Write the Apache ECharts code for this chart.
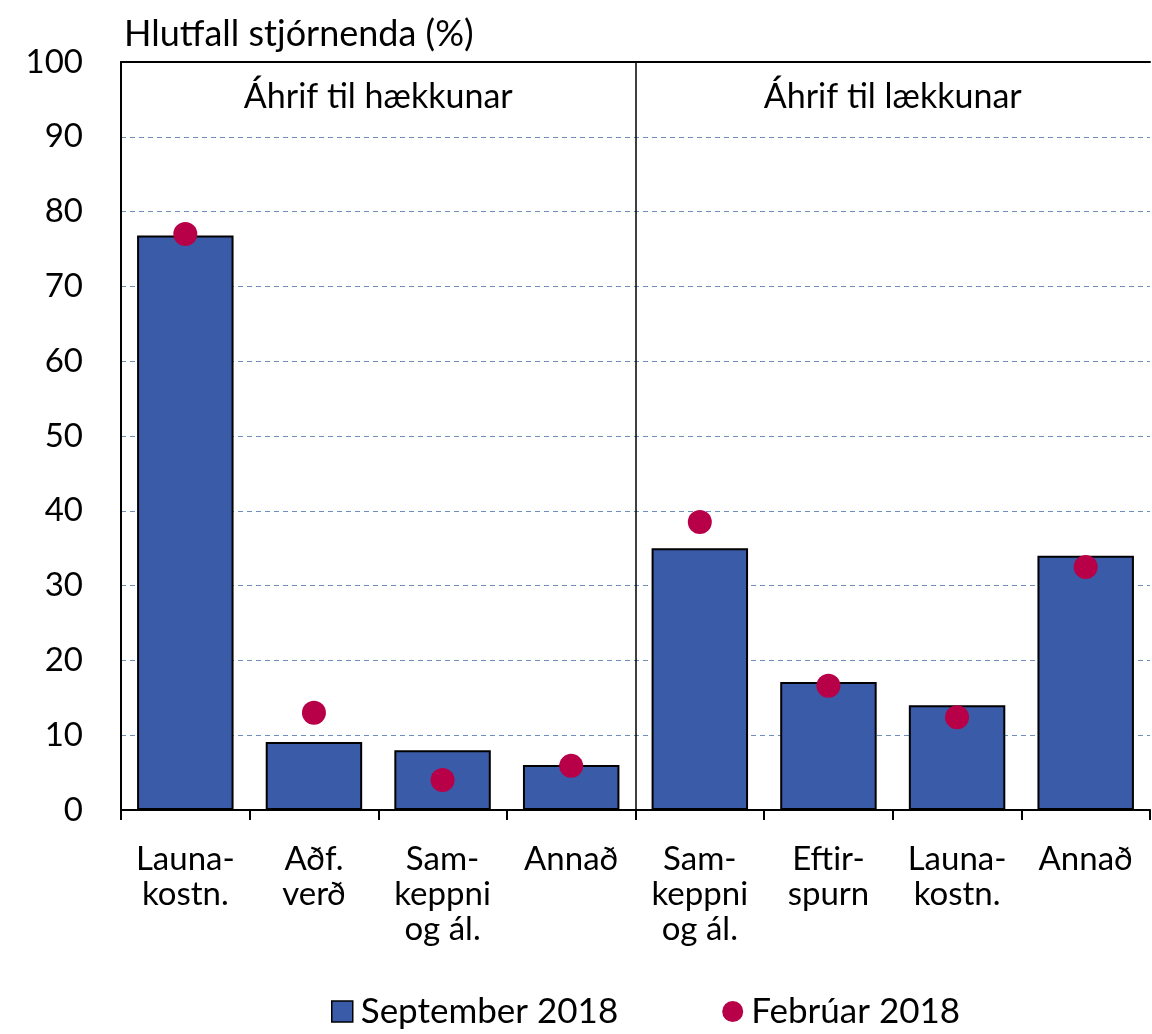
<!DOCTYPE html>
<html>
<head>
<meta charset="utf-8">
<script src="https://cdn.jsdelivr.net/npm/echarts@6/dist/echarts.min.js"></script>
<style>
  html, body { margin: 0; padding: 0; background: #fff; }
  #chart { width: 1152px; height: 1034px; }
</style>
</head>
<body>
<div id="chart"></div>
<script>
// flokkar (x-ás)
var categories = ['Launa-\nkostn.', 'Aðf.\nverð', 'Sam-\nkeppni\nog ál.', 'Annað',
  'Sam-\nkeppni\nog ál.', 'Eftir-\nspurn', 'Launa-\nkostn.', 'Annað']
var groups = ['Áhrif til hækkunar', 'Áhrif til lækkunar']
var sept2018 = [76.8, 9.1, 8.0, 6.0, 35.0, 17.1, 14.0, 34.0] // súlur
var feb2018 = [77.0, 13.0, 4.0, 5.9, 38.5, 16.6, 12.4, 32.5] // punktar
var yTicks = { min: 0, max: 100, interval: 10 }

var font = 'Lato, "Open Sans", sans-serif'
var chart = echarts.init(document.getElementById('chart'))
var option = {
  animation: false,
  textStyle: { fontFamily: font, color: '#000' },
  grid: { left: 121, right: 2, top: 62, bottom: 224 },
  legend: {
    left: 326,
    bottom: 0,
    itemGap: 104,
    itemWidth: 21,
    itemHeight: 21,
    textStyle: { fontSize: 35, color: '#000', fontFamily: font, padding: [0, 0, 0, 3] },
    data: [
      { name: 'September 2018', icon: 'rect', itemStyle: { borderColor: '#000', borderWidth: 1.5 } },
      { name: 'Febrúar 2018', icon: 'circle' }
    ]
  },
  xAxis: [
    {
      type: 'category',
      data: categories,
      position: 'bottom',
      axisLine: { lineStyle: { color: '#000', width: 2 } },
      axisTick: { show: true, length: 10, lineStyle: { color: '#000', width: 2 } },
      axisLabel: { interval: 0, fontSize: 33, lineHeight: 35, color: '#000', margin: 32, fontFamily: font },
      splitLine: { show: false }
    },
    {
      type: 'category',
      data: groups,
      position: 'top',
      axisLine: { show: true, lineStyle: { color: '#000', width: 2 } },
      axisTick: { show: false },
      axisLabel: { inside: true, fontSize: 34, color: '#000', margin: 18, verticalAlign: 'top', fontFamily: font },
      splitLine: { show: true, showMinLine: false, showMaxLine: false, lineStyle: { color: '#000', width: 1.5 } }
    }
  ],
  yAxis: {
    type: 'value',
    min: yTicks.min,
    max: yTicks.max,
    interval: yTicks.interval,
    name: 'Hlutfall stjórnenda (%)',
    nameLocation: 'end',
    nameGap: 10,
    nameTextStyle: { fontSize: 36, color: '#000', align: 'left', padding: [0, 0, 0, 3], fontFamily: font },
    axisLine: { show: true, lineStyle: { color: '#000', width: 2 } },
    axisTick: { show: false },
    axisLabel: { fontSize: 33, color: '#000', margin: 38, fontFamily: font },
    splitLine: { show: true, showMinLine: false, showMaxLine: false, lineStyle: { color: '#6F8DBA', type: [5, 4], width: 1 } }
  },
  series: [
    {
      name: 'September 2018',
      type: 'bar',
      data: sept2018,
      barCategoryGap: '25%',
      itemStyle: { color: '#3A5BA8', borderColor: '#000', borderWidth: 2 }
    },
    {
      name: 'Febrúar 2018',
      type: 'scatter',
      data: feb2018,
      symbol: 'circle',
      symbolSize: 24,
      itemStyle: { color: '#B80048', opacity: 1 },
      z: 5
    }
  ]
}
chart.setOption(option)
</script>
</body>
</html>
